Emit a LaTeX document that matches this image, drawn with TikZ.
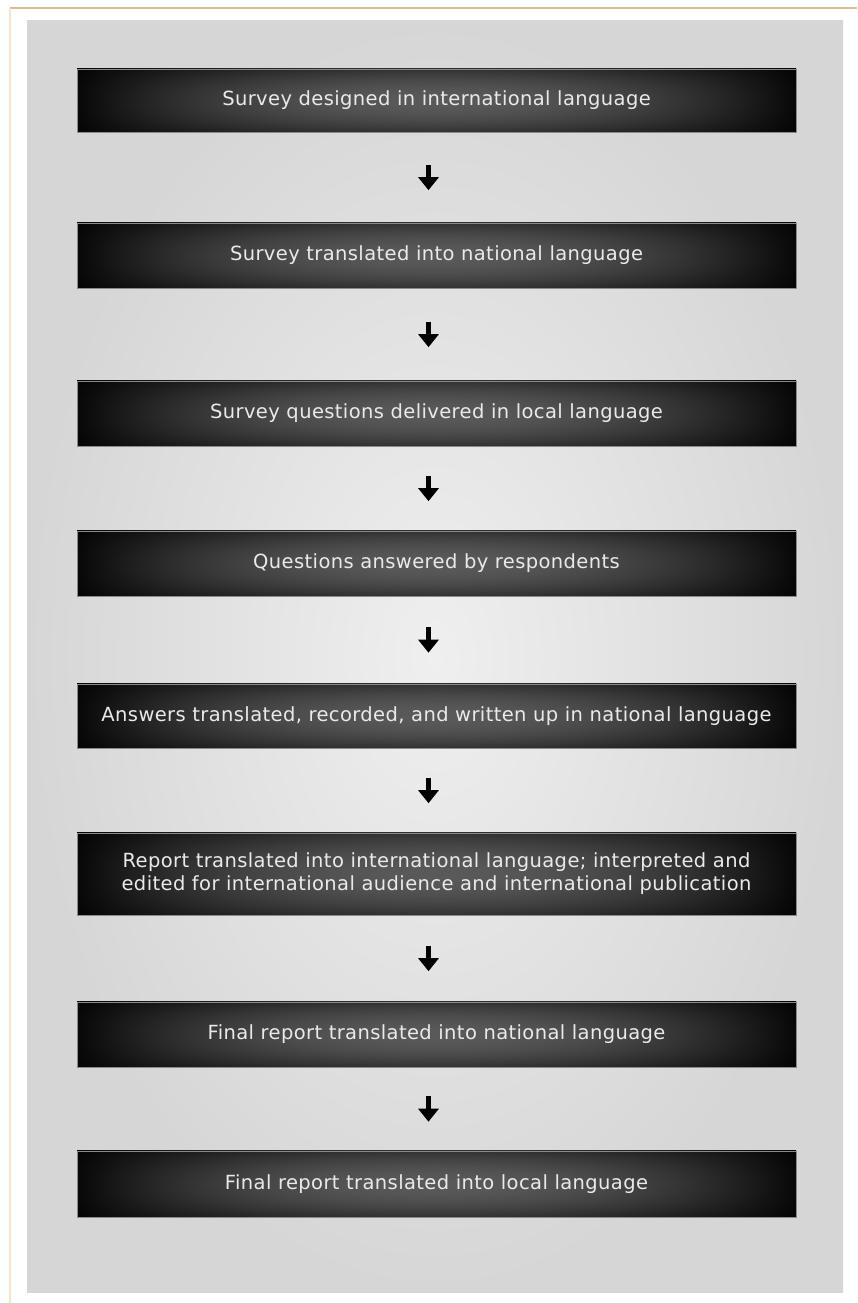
\documentclass[tikz,border=0pt]{standalone}
\usepackage{fontspec}
\setmainfont{DejaVu Sans}
\usetikzlibrary{arrows.meta}
\definecolor{panelin}{HTML}{EFEFEF}
\definecolor{panelout}{HTML}{D6D6D6}
\definecolor{boxedge}{HTML}{8A8A8A}
\definecolor{tantop}{HTML}{D9BE98}
\definecolor{tanleft}{HTML}{F6E7C2}
\definecolor{txt}{HTML}{EAEAEA}
\pgfdeclarefunctionalshading{boxfun}{\pgfpoint{0bp}{0bp}}{\pgfpoint{100bp}{100bp}}{}{
  50 sub 25 div dup mul 0.45 mul 1 exch sub
  exch 50 sub 25 div dup mul 1 exch sub
  dup 0 lt {pop 0} if
  0.32 mul 0.03 add mul
  dup 0 lt {pop 0} if
  dup dup
}
\tikzset{
  x=1pt, y=1pt,
  stagebox/.style={rectangle, minimum width=719pt, inner sep=0pt,
    shading=boxfun, draw=boxedge, line width=0.6pt,
    text=txt, align=center,
    font=\fontsize{19.5}{23}\selectfont\addfontfeatures{LetterSpace=2}},
  flowarrow/.style={-{Triangle[width=20pt,length=13pt]}, line width=5pt, black}
}
\begin{document}
\begin{tikzpicture}
\useasboundingbox (0,0) rectangle (857,1303);
\fill[white] (0,0) rectangle (857,1303);
% frame lines
\draw[tantop, line width=1.5pt] (10,1295) -- (857,1295);
\draw[tanleft, line width=1.5pt] (10,1295) -- (10,0);
% panel
\shade[inner color=panelin, outer color=panelout] (27,10) rectangle (843,1282);
% boxes
\node[stagebox, minimum height=63pt] (b1) at (436.5,1202.5) {Survey designed in international language};
\node[stagebox, minimum height=65pt] (b2) at (436.5,1047.5) {Survey translated into national language};
\node[stagebox, minimum height=65pt] (b3) at (436.5,889.5) {Survey questions delivered in local language};
\node[stagebox, minimum height=65pt] (b4) at (436.5,739.5) {Questions answered by respondents};
\node[stagebox, minimum height=64pt] (b5) at (436.5,587) {Answers translated, recorded, and written up in national language};
\node[stagebox, minimum height=82pt] (b6) at (436.5,429) {Report translated into international language; interpreted and\\edited for international audience and international publication};
\node[stagebox, minimum height=65pt] (b7) at (436.5,268.5) {Final report translated into national language};
\node[stagebox, minimum height=66pt] (b8) at (436.5,119) {Final report translated into local language};
% connectors
\foreach \a/\b/\s in {b1/b2/32.5,b2/b3/33.5,b3/b4/29.5,b4/b5/31,b5/b6/29.5,b6/b7/30.5,b7/b8/29}{
  \draw[flowarrow, shorten <=\s pt, shorten >=\s pt] ([xshift=-8pt]\a.south) -- ([xshift=-8pt]\b.north);
}
\end{tikzpicture}
\end{document}
